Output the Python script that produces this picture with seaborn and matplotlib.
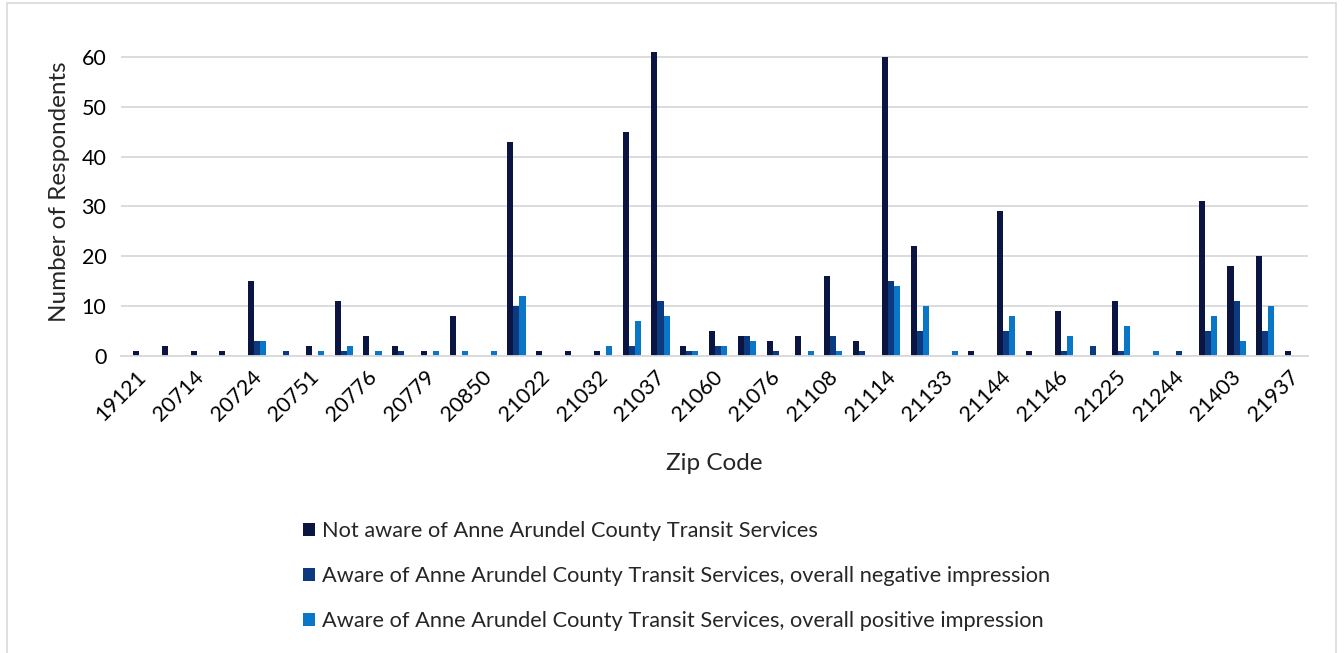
import matplotlib
matplotlib.use('Agg')
import matplotlib.pyplot as plt
import matplotlib.patches as mpatches
import pandas as pd
import seaborn as sns

# zip codes (every other one is labelled on the axis)
zips = ['19121', '20711', '20714', '20720', '20724', '20733', '20751', '20764',
        '20776', '20778', '20779', '20794', '20850', '21012', '21022', '21029',
        '21032', '21035', '21037', '21054', '21060', '21061', '21076', '21090',
        '21108', '21113', '21114', '21122', '21133', '21140', '21144', '21145',
        '21146', '21202', '21225', '21226', '21244', '21401', '21403', '21409',
        '21937']

not_aware = [1, 2, 1, 1, 15, 0, 2, 11, 4, 2, 1, 8, 0, 43, 1, 1, 1, 45, 61, 2,
             5, 4, 3, 4, 16, 3, 60, 22, 0, 1, 29, 1, 9, 0, 11, 0, 0, 31, 18, 20, 1]
aware_negative = [0, 0, 0, 0, 3, 1, 0, 1, 0, 1, 0, 0, 0, 10, 0, 0, 0, 2, 11, 1,
                  2, 4, 1, 0, 4, 1, 15, 5, 0, 0, 5, 0, 1, 2, 1, 0, 1, 5, 11, 5, 0]
aware_positive = [0, 0, 0, 0, 3, 0, 1, 2, 1, 0, 1, 1, 1, 12, 0, 0, 2, 7, 8, 1,
                  2, 3, 0, 1, 1, 0, 14, 10, 1, 0, 8, 0, 4, 0, 6, 1, 0, 8, 3, 10, 0]

series_names = ['Not aware of Anne Arundel County Transit Services',
                'Aware of Anne Arundel County Transit Services, overall negative impression',
                'Aware of Anne Arundel County Transit Services, overall positive impression']
colors = ['#0A1641', '#0C3A80', '#0A76C8']

df = pd.DataFrame({
    'Zip Code': zips * 3,
    'Series': [series_names[0]] * len(zips) + [series_names[1]] * len(zips) + [series_names[2]] * len(zips),
    'Respondents': not_aware + aware_negative + aware_positive,
})

sns.set_style('white')
plt.rcParams['font.family'] = ['Lato', 'DejaVu Sans']

fig = plt.figure(figsize=(13.44, 6.53), dpi=100)
ax = fig.add_axes([121 / 1344, 1 - 356 / 653, (1308 - 121) / 1344, (356 - 47) / 653])

sns.barplot(data=df, x='Zip Code', y='Respondents', hue='Series',
            order=zips, hue_order=series_names, palette=colors,
            width=0.63, linewidth=0, saturation=1, ax=ax)

ax.set_xlim(-0.73, 40.48)
ax.set_ylim(0, 62)
ax.set_yticks(range(0, 61, 10))
ax.yaxis.grid(True, color='#d9d9d9', linewidth=1.3)
ax.set_axisbelow(True)
for s in ['top', 'right', 'left']:
    ax.spines[s].set_visible(False)
ax.spines['bottom'].set_color('#d9d9d9')
ax.spines['bottom'].set_linewidth(1.3)
ax.tick_params(axis='both', length=0, labelsize=15.5, colors='#000000')
ax.tick_params(axis='y', pad=10.5)

tick_pos = [i - 0.2 for i in range(0, len(zips), 2)]
ax.set_xticks(tick_pos)
ax.set_xticklabels(zips[::2], rotation=45, ha='right', rotation_mode='anchor')
ax.tick_params(axis='x', pad=8)

ax.set_xlabel('Zip Code', fontsize=17.5, labelpad=20)
ax.set_ylabel('Number of Respondents', fontsize=17.5)
ax.yaxis.set_label_coords(-0.043, 0.531)

handles, labels = ax.get_legend_handles_labels()
ax.get_legend().remove()
fig.legend(handles, labels, loc='upper left', bbox_to_anchor=(303 / 1344, 1 - 521 / 653),
           frameon=False, fontsize=15.7, handlelength=0.55, handleheight=0.55,
           handletextpad=0.3, labelspacing=1.15, borderpad=0, borderaxespad=0)

fig.patches.append(mpatches.Rectangle((7 / 1344, -0.1), (1336 - 7) / 1344, 1.1 - 3 / 653,
                                      transform=fig.transFigure, fill=False,
                                      edgecolor='#d9d9d9', linewidth=1.2))

fig.savefig('out.png', dpi=100)
